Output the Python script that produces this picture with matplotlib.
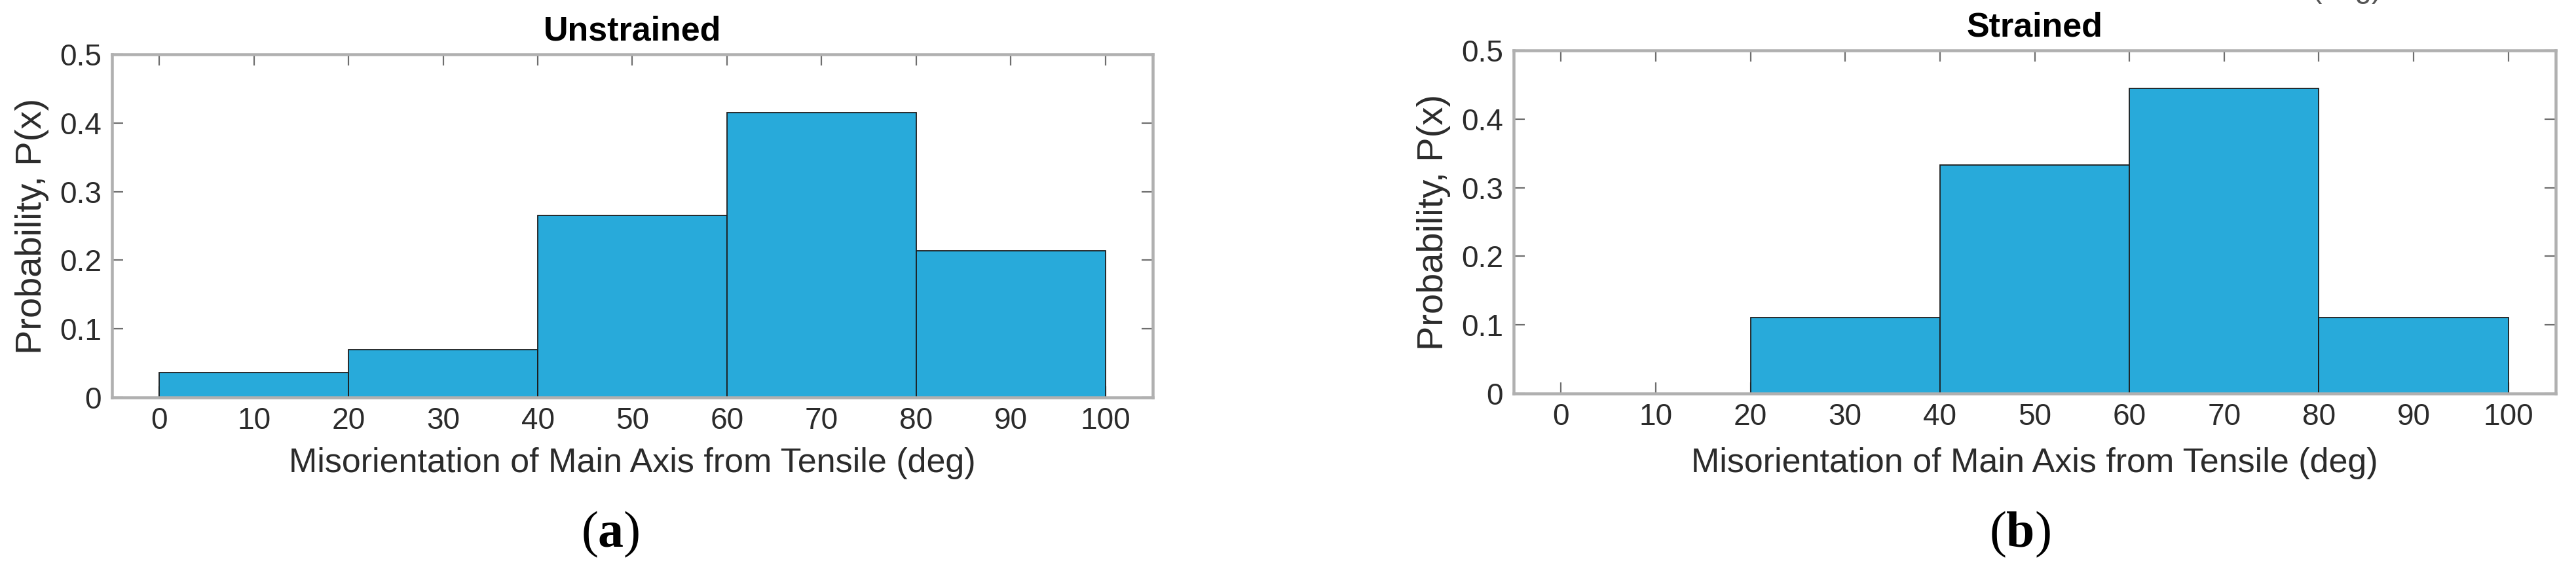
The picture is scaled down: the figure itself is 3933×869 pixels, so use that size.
import matplotlib
matplotlib.use("Agg")
import matplotlib.pyplot as plt

plt.rcParams["mathtext.fontset"] = "custom"
plt.rcParams["mathtext.rm"] = "Liberation Serif"
plt.rcParams["mathtext.bf"] = "Liberation Serif:bold"

# ---- data ----
bin_edges = [0, 20, 40, 60, 80, 100]
unstrained_prob = [0.0366, 0.0699, 0.2656, 0.4149, 0.2134]
strained_prob = [0.0, 0.1111, 0.3333, 0.4444, 0.1111]
x_ticks = [0, 10, 20, 30, 40, 50, 60, 70, 80, 90, 100]
y_ticks = [0, 0.1, 0.2, 0.3, 0.4, 0.5]
y_tick_labels = ["0", "0.1", "0.2", "0.3", "0.4", "0.5"]
titles = ["Unstrained", "Strained"]
panel_labels = ["a", "b"]
xlabel_text = "Misorientation of Main Axis from Tensile (deg)"
ylabel_text = "Probability, P(x)"
cropped_fragment = "(deg)"

W, H = 3933, 869
DPI = 100
fig = plt.figure(figsize=(W / DPI, H / DPI), dpi=DPI)
fig.patch.set_facecolor("white")

SANS = ["Liberation Sans", "DejaVu Sans"]
SERIF = ["Liberation Serif", "DejaVu Serif"]
px = 72.0 / DPI  # points per pixel

BAR_COLOR = "#28AADA"
SPINE_COLOR = "#b0b0b0"
TICK_COLOR = "#6e6e6e"
TEXT_COLOR = "#2b2b2b"

# axes boxes in pixels: (left, top, right, bottom)
boxes = [(171, 83, 1760, 607), (2311, 77, 3902, 601)]
label_centers_x = [932, 3084]
label_center_y = 816


def fx(x):
    return x / W


def fy(y):
    return 1 - y / H


for i, (vals, box) in enumerate(zip([unstrained_prob, strained_prob], boxes)):
    l, t, r, b = box
    ax = fig.add_axes([fx(l), fy(b), (r - l) / W, (b - t) / H])
    widths = [bin_edges[k + 1] - bin_edges[k] for k in range(len(vals))]
    ax.bar(bin_edges[:-1], vals, width=widths, align="edge",
           color=BAR_COLOR, edgecolor="#1c1c1c", linewidth=1.8 * px, zorder=2)
    ax.set_xlim(-5, 105)
    ax.set_ylim(0, 0.5)
    ax.set_xticks(x_ticks)
    ax.set_xticklabels([str(v) for v in x_ticks])
    ax.set_yticks(y_ticks)
    ax.set_yticklabels(y_tick_labels)
    ax.tick_params(axis="both", which="major", direction="in", length=17 * px,
                   width=2.2 * px, color=TICK_COLOR, labelsize=46 * px,
                   labelcolor=TEXT_COLOR, top=True, right=True, pad=14 * px)
    ax.tick_params(axis="y", pad=16 * px)
    for lab in ax.get_xticklabels() + ax.get_yticklabels():
        lab.set_family(SANS)
    for sp in ax.spines.values():
        sp.set_color(SPINE_COLOR)
        sp.set_linewidth(4.5 * px)
        sp.set_zorder(3)
    ax.set_title(titles[i], fontsize=52 * px, fontweight="bold", family=SANS,
                 color="black", pad=22 * px)
    ax.set_xlabel(xlabel_text, fontsize=52 * px, family=SANS, color=TEXT_COLOR)
    ax.set_ylabel(ylabel_text, fontsize=56 * px, family=SANS, color=TEXT_COLOR)
    ax.xaxis.set_label_coords(0.5, -(683 - b) / (b - t))
    ax.yaxis.set_label_coords(-96 / (r - l), 0.5)
    fig.text(fx(label_centers_x[i]), fy(label_center_y),
             "($\\mathbf{" + panel_labels[i] + "}$)",
             fontsize=78 * px, family=SERIF, ha="center", va="center",
             color="black")

# fragment of text cut off by the top edge of the original image
fig.text(fx(3583), fy(-4), cropped_fragment, fontsize=46 * px, family=SANS,
         ha="center", va="baseline", color="#555555")

fig.savefig("out.png", dpi=DPI, facecolor="white")
